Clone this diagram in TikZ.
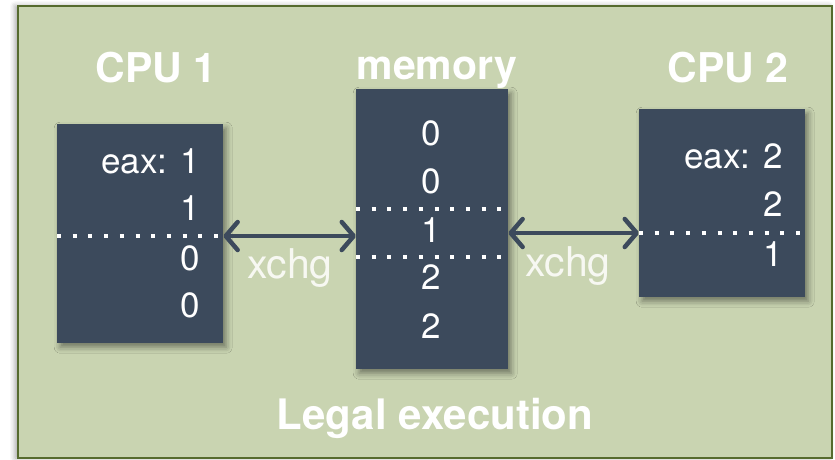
\documentclass[tikz,border=0pt]{standalone}
\usepackage{fontspec}
\setmainfont{TeX Gyre Heros}
\usetikzlibrary{arrows.meta,shadows.blur}

\definecolor{panelgreen}{HTML}{C9D4B1}
\definecolor{paneledge}{HTML}{566B2E}
\definecolor{slate}{HTML}{3C4A5C}
\definecolor{softwhite}{HTML}{F7F8F2}

\tikzset{
  panel/.style={fill=panelgreen, draw=paneledge, line width=2pt,
    blur shadow={shadow xshift=-3pt, shadow yshift=0pt, shadow blur radius=5pt, shadow opacity=35}},
  regbox/.style={fill=slate, draw=none, inner sep=0pt, anchor=north west,
    blur shadow={shadow xshift=3pt, shadow yshift=-4pt, shadow blur radius=6pt, shadow opacity=45}},
  heading/.style={text=white, font=\fontsize{41pt}{41pt}\selectfont\bfseries, inner sep=0pt, anchor=base},
  cell/.style={text=white, font=\fontsize{35pt}{35pt}\selectfont, inner sep=0pt, anchor=east},
  memcell/.style={text=white, font=\fontsize{35pt}{35pt}\selectfont, inner sep=0pt},
  opname/.style={text=softwhite, font=\fontsize{41pt}{41pt}\selectfont, inner sep=0pt, anchor=base},
  divider/.style={white, line width=4pt, dash pattern=on 4pt off 11.7pt},
  xarrow/.style={slate, line width=4.5pt,
    {Straight Barb[length=12pt, width=28pt, round]}-{Straight Barb[length=12pt, width=28pt, round]}},
}

\begin{document}
\begin{tikzpicture}[x=1pt, y=-1pt]
  \useasboundingbox (0,0) rectangle (835,459);

  % background panel
  \draw[panel] (18,6) rectangle (832,458);

  % register / memory blocks
  \node[regbox, minimum width=166pt, minimum height=219pt] (cpu1) at (57,124) {};
  \node[regbox, minimum width=152pt, minimum height=280pt] (mem)  at (356,89) {};
  \node[regbox, minimum width=166pt, minimum height=188pt] (cpu2) at (639,109) {};

  % headings
  \node[heading] (h1) at (156,82) {CPU 1};
  \node[heading] (hm) at (437,79) {memory};
  \node[heading] (h2) at (728,82) {CPU 2};
  \node[heading, font=\fontsize{42pt}{42pt}\selectfont\bfseries] (legal) at (435,429) {Legal execution};

  % CPU 1 contents
  \node[cell] (c1a) at (200,161) {eax: 1};
  \node[cell] (c1b) at (200,208) {1};
  \node[cell] (c1c) at (200,258) {0};
  \node[cell] (c1d) at (200,305) {0};

  % memory contents
  \node[memcell] (m1) at (431,133) {0};
  \node[memcell] (m2) at (431,181) {0};
  \node[memcell] (m3) at (431,230) {1};
  \node[memcell] (m4) at (431,277) {2};
  \node[memcell] (m5) at (431,326) {2};

  % CPU 2 contents
  \node[cell] (c2a) at (783,156) {eax: 2};
  \node[cell] (c2b) at (783,204) {2};
  \node[cell] (c2c) at (783,254) {1};

  % dotted dividers
  \coordinate (d1) at (0,236);
  \coordinate (dm1) at (0,209);
  \coordinate (dm2) at (0,257);
  \coordinate (d2) at (0,233);
  \draw[divider] (cpu1.west |- d1) -- (cpu1.east |- d1);
  \draw[divider] (mem.west |- dm1) -- (mem.east |- dm1);
  \draw[divider] (mem.west |- dm2) -- (mem.east |- dm2);
  \draw[divider] (cpu2.west |- d2) -- (cpu2.east |- d2);

  % exchange arrows
  \draw[xarrow] (cpu1.east |- d1) -- (mem.west |- d1);
  \draw[xarrow] (mem.east |- d2) -- (cpu2.west |- d2);
  \node[opname] (x1) at (290,278) {xchg};
  \node[opname] (x2) at (568,276) {xchg};
\end{tikzpicture}
\end{document}
